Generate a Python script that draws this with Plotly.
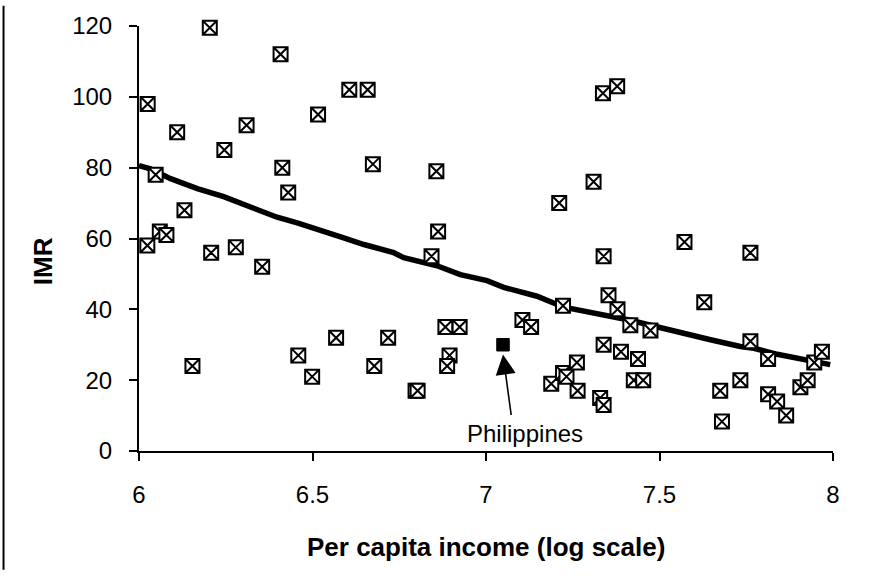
import plotly.graph_objects as go

# Log per-capita income and infant mortality rate for each country
log_income = [
    6.025, 6.048, 6.060, 6.079, 6.024, 6.110, 6.131, 6.154, 6.204, 6.208,
    6.246, 6.279, 6.310, 6.355, 6.408, 6.413, 6.430, 6.459, 6.499, 6.516,
    6.568, 6.606, 6.659, 6.674, 6.678, 6.718, 6.797, 6.803, 6.843, 6.857,
    6.862, 6.883, 6.924, 6.895, 6.888, 7.105, 7.130, 7.188, 7.211, 7.222,
    7.222, 7.232, 7.262, 7.264, 7.310, 7.329, 7.339, 7.337, 7.378, 7.339,
    7.353, 7.379, 7.339, 7.389, 7.416, 7.438, 7.426, 7.453, 7.474, 7.572,
    7.629, 7.675, 7.680, 7.733, 7.762, 7.762, 7.813, 7.813, 7.839, 7.865,
    7.906, 7.927, 7.946, 7.968,
]
imr = [
    98, 78, 62, 61, 58, 90, 68, 24, 119.5, 56,
    85, 57.5, 92, 52, 112, 80, 73, 27, 21, 95,
    32, 102, 102, 81, 24, 32, 17, 17, 55, 79,
    62, 35, 35, 27, 24, 37, 35, 19, 70, 41,
    22, 21, 25, 17, 76, 15, 13, 101, 103, 55,
    44, 40, 30, 28, 35.5, 26, 20, 20, 34, 59,
    42, 17, 8.3, 20, 56, 31, 26, 16, 14, 10,
    18, 20, 25, 28,
]

# Highlighted country
phil_income = [7.049]
phil_imr = [30]

# Fitted trend
trend_x = [6.0, 6.033, 6.091, 6.168, 6.244, 6.322, 6.398, 6.456, 6.532, 6.590,
           6.648, 6.734, 6.763, 6.859, 6.926, 7.003, 7.051, 7.147, 7.224, 7.320,
           7.387, 7.416, 7.474, 7.551, 7.647, 7.733, 7.772, 7.839, 7.925, 7.992]
trend_y = [80.6, 79.7, 76.9, 74.1, 71.8, 69.0, 66.0, 64.4, 61.8, 60.2,
           58.3, 56.0, 54.6, 52.3, 49.8, 48.1, 46.2, 43.7, 40.6, 38.8,
           37.2, 36.9, 35.5, 33.5, 31.4, 29.5, 29.0, 27.3, 25.5, 24.4]

x_ticks = [6, 6.5, 7, 7.5, 8]
x_ticklabels = ["6", "6.5", "7", "7.5", "8"]
y_ticks = [0, 20, 40, 60, 80, 100, 120]

FONT = "Arial, Liberation Sans, sans-serif"
W, H = 874, 576
ML, MR, MT, MB = 138.5, 41.3, 20.5, 125.3
PW, PH = W - ML - MR, H - MT - MB

fig = go.Figure()

fig.add_trace(go.Scatter(
    x=trend_x, y=trend_y, mode="lines",
    line=dict(color="black", width=5.5),
    hoverinfo="skip", cliponaxis=False,
))

fig.add_trace(go.Scatter(
    x=log_income, y=imr, mode="markers",
    marker=dict(symbol="square-x", size=14, color="white",
                line=dict(color="black", width=2)),
    cliponaxis=False,
))

fig.add_trace(go.Scatter(
    x=phil_income, y=phil_imr, mode="markers",
    marker=dict(symbol="square", size=12.5, color="black",
                line=dict(color="black", width=1)),
    cliponaxis=False,
))

# Arrow pointing at the highlighted country
fig.add_annotation(
    x=phil_income[0], y=phil_imr[0] - 2.75, xref="x", yref="y",
    text="", showarrow=True, ax=8.4, ay=62,
    arrowhead=2, arrowsize=2.5, arrowwidth=1.6, arrowcolor="black",
)
fig.add_annotation(
    x=(525 - ML) / PW, y=1 - (433 - MT) / PH, xref="paper", yref="paper",
    text="Philippines", showarrow=False,
    font=dict(family=FONT, size=24, color="black"),
    xanchor="center", yanchor="middle",
)

# Axis titles
fig.add_annotation(
    x=(486 - ML) / PW, y=1 - (548 - MT) / PH, xref="paper", yref="paper",
    text="<b>Per capita income (log scale)</b>", showarrow=False,
    font=dict(family=FONT, size=26, color="black"),
    xanchor="center", yanchor="middle",
)
fig.add_annotation(
    x=(42 - ML) / PW, y=1 - (259 - MT) / PH, xref="paper", yref="paper",
    text="<b>IMR</b>", showarrow=False, textangle=-90,
    font=dict(family=FONT, size=26, color="black"),
    xanchor="center", yanchor="middle",
)

# Left frame edge
fig.add_shape(
    type="line", xref="paper", yref="paper",
    x0=(3 - ML) / PW, x1=(3 - ML) / PW,
    y0=1 + MT / PH, y1=1 - (571 - MT) / PH,
    line=dict(color="black", width=2),
)

fig.update_xaxes(
    range=[6, 8], tickvals=x_ticks, ticktext=x_ticklabels,
    showgrid=False, zeroline=False, showline=True, linecolor="black", linewidth=2,
    ticks="outside", ticklen=8, tickwidth=2, tickcolor="black",
    tickfont=dict(family=FONT, size=24, color="black"), ticklabelstandoff=13,
)
fig.update_yaxes(
    range=[0, 120], tickvals=y_ticks,
    showgrid=False, zeroline=False, showline=True, linecolor="black", linewidth=2,
    ticks="outside", ticklen=8, tickwidth=2, tickcolor="black",
    tickfont=dict(family=FONT, size=24, color="black"), ticklabelstandoff=12,
)

fig.update_layout(
    width=W, height=H,
    margin=dict(l=ML, r=MR, t=MT, b=MB, pad=0),
    paper_bgcolor="white", plot_bgcolor="white",
    showlegend=False,
    font=dict(family=FONT, color="black"),
)

fig.write_html("out.html")
